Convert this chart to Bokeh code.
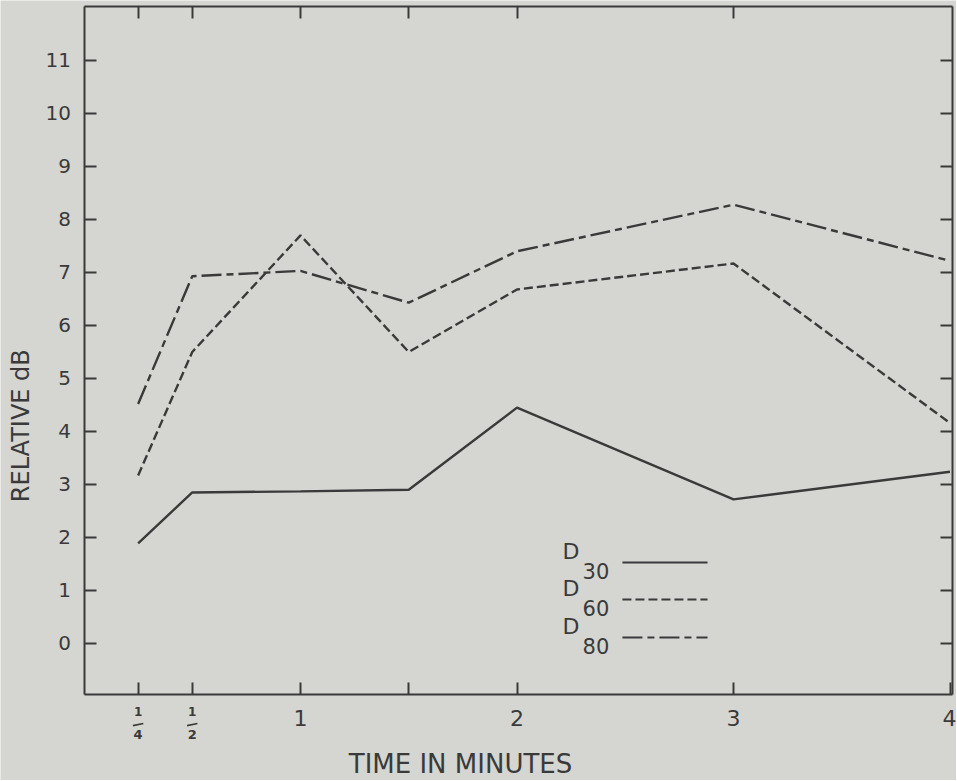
import math
from bokeh.plotting import figure
from bokeh.models import FixedTicker, LinearAxis, Label, Arrow, Range1d
from bokeh.core.properties import value
from bokeh.embed import file_html
from bokeh.resources import INLINE

# ---------------- data ----------------
TIME = [0.25, 0.5, 1, 1.5, 2, 3, 4]
D30 = [1.89, 2.85, 2.87, 2.90, 4.45, 2.72, 3.24]
D60 = [3.17, 5.50, 7.70, 5.50, 6.68, 7.17, 4.16]
D80 = [4.52, 6.93, 7.03, 6.43, 7.40, 8.28, 7.22]

X_LABELLED_TICKS = [1, 2, 3, 4]
X_PLAIN_TICKS = [0.25, 0.5, 1.5]
X_TOP_TICKS = [0.25, 0.5, 1, 1.5, 2, 3]
FRACTIONS = [(0.25, "1", "4"), (0.5, "1", "2")]
Y_TICKS = list(range(0, 12))

SERIES_NAMES = ["30", "60", "80"]
SERIES_DASH = ["solid", "9 4", "20 5 7 5"]

# ---------------- frame / style ----------------
X_LEFT, X_RIGHT = 0.0, 4.013
Y_BOTTOM, Y_TOP = -0.962, 12.02
BG = "#d5d5d1"
INK = "#3a3a3a"
FONT = "DejaVu Sans"

p = figure(width=956, height=780,
           x_range=Range1d(-0.3857, 4.0300), y_range=Range1d(-2.585, 12.132),
           output_backend="svg", toolbar_location=None,
           min_border=0, min_border_left=0, min_border_right=0,
           min_border_top=0, min_border_bottom=0,
           background_fill_color=BG, border_fill_color=BG)
p.outline_line_color = None
p.grid.visible = False


def style_axis(ax, show_labels, size="20px", standoff=13, line=True):
    ax.major_tick_in = 12
    ax.major_tick_out = 0
    ax.minor_tick_line_color = None
    ax.axis_line_color = INK if line else None
    ax.axis_line_width = 2
    ax.major_tick_line_color = INK
    ax.major_tick_line_width = 2
    if show_labels:
        ax.major_label_text_font = FONT
        ax.major_label_text_font_size = size
        ax.major_label_text_color = INK
        ax.major_label_standoff = standoff
    else:
        ax.major_label_text_color = None
        ax.major_label_standoff = 0


# left
left = p.yaxis[0]
left.ticker = FixedTicker(ticks=Y_TICKS)
left.fixed_location = X_LEFT
left.bounds = (Y_BOTTOM, Y_TOP)
style_axis(left, True, "20px", 13)

# bottom (labelled ticks)
bottom = p.xaxis[0]
bottom.ticker = FixedTicker(ticks=X_LABELLED_TICKS)
bottom.fixed_location = Y_BOTTOM
bottom.bounds = (X_LEFT, X_RIGHT)
style_axis(bottom, True, "22px", 16)

# bottom (unlabelled ticks at 1/4, 1/2, 1 1/2)
bottom2 = LinearAxis(ticker=FixedTicker(ticks=X_PLAIN_TICKS),
                     fixed_location=Y_BOTTOM, bounds=(X_LEFT, X_RIGHT))
style_axis(bottom2, False, line=False)
p.add_layout(bottom2, "below")

# top
top = LinearAxis(ticker=FixedTicker(ticks=X_TOP_TICKS),
                 fixed_location=Y_TOP, bounds=(X_LEFT, X_RIGHT))
style_axis(top, False)
p.add_layout(top, "above")

# right
right = LinearAxis(ticker=FixedTicker(ticks=Y_TICKS),
                   fixed_location=X_RIGHT, bounds=(Y_BOTTOM, Y_TOP))
style_axis(right, False)
p.add_layout(right, "right")

# ---------------- series ----------------
for ys, dash in zip([D30, D60, D80], SERIES_DASH):
    p.line(TIME, ys, line_color=INK, line_width=2.4, line_dash=dash)

# ---------------- fraction tick labels ----------------
for xv, num, den in FRACTIONS:
    p.add_layout(Label(x=xv, y=-1.283, text=num, text_align="center",
                       text_baseline="middle", text_font=FONT,
                       text_font_size="12px", text_font_style="bold",
                       text_color=INK))
    p.add_layout(Arrow(x_start=xv - 0.024, y_start=-1.55,
                       x_end=xv + 0.024, y_end=-1.51,
                       start=None, end=None, line_color=INK, line_width=1.6))
    p.add_layout(Label(x=xv, y=-1.71, text=den, text_align="center",
                       text_baseline="middle", text_font=FONT,
                       text_font_size="13px", text_font_style="bold",
                       text_color=INK))

# ---------------- axis titles ----------------
p.add_layout(Label(x=1.739, y=-2.274, text="TIME IN MINUTES",
                   text_align="center", text_baseline="middle",
                   text_font=FONT, text_font_size="26px", text_color=INK))
p.add_layout(Label(x=-0.293, y=4.11, text="RELATIVE dB", angle=math.pi / 2,
                   text_align="center", text_baseline="middle",
                   text_font=FONT, text_font_size="24px", text_color=INK))

# ---------------- legend ----------------
LEG_X_D = 2.21
LEG_X_SUB = 2.303
LEG_X0, LEG_X1 = 2.487, 2.88
LEG_ROWS = [1.528, 0.83, 0.113]
for name, dash, ly in zip(SERIES_NAMES, SERIES_DASH, LEG_ROWS):
    p.text(x=[LEG_X_D], y=[ly + 0.208], text=["D"], text_font=value(FONT),
           text_font_size="22px", text_color=INK, text_align="left",
           text_baseline="middle")
    p.text(x=[LEG_X_SUB], y=[ly - 0.151], text=[name], text_font=value(FONT),
           text_font_size="21px", text_color=INK, text_align="left",
           text_baseline="middle")
    p.segment(x0=[LEG_X0], y0=[ly], x1=[LEG_X1], y1=[ly],
              line_color=INK, line_width=2, line_dash=dash)

open("out.html", "w").write(file_html(p, INLINE))
